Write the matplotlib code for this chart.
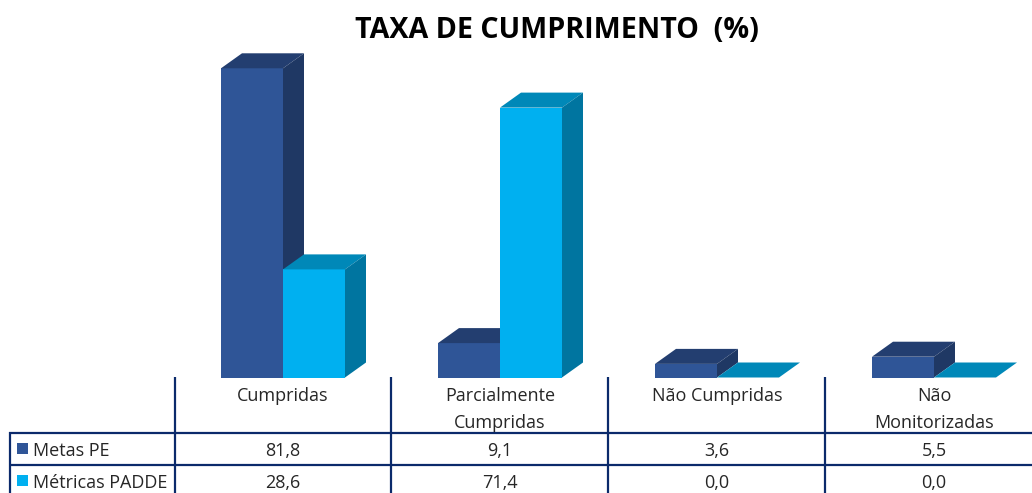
import matplotlib
matplotlib.use('Agg')
import matplotlib.pyplot as plt
from matplotlib.patches import Rectangle
import numpy as np

plt.rcParams['font.family'] = ['Open Sans', 'DejaVu Sans']

categories = ['Cumpridas', 'Parcialmente\nCumpridas', 'Não Cumpridas', 'Não\nMonitorizadas']
metas_pe = [81.8, 9.1, 3.6, 5.5]
metricas_padde = [28.6, 71.4, 0.0, 0.0]
series_names = ['Metas PE', 'Métricas PADDE']

W, H = 1032, 493
fig = plt.figure(figsize=(W / 100, H / 100), dpi=100)

# chart scale: 217 px per category, 3.78 px per percent, baseline at y=377.5
px_x = 217.0
px_y = 3.78
ax = fig.add_axes([0, 0, 1, 1])
ax.set_xlim(-283 / px_x, (W - 283) / px_x)
ax.set_ylim(-(H - 377.5) / px_y, 377.5 / px_y)
ax.axis('off')

bar_w = 62 / px_x
dx = 21 / px_x
dy = 15 / px_y


def bar3d(x0, val, front, top, side):
    ax.bar(x0, val, bar_w, bottom=0, align='edge', color=front, linewidth=0, zorder=3)
    ax.fill([x0, x0 + bar_w, x0 + bar_w + dx, x0 + dx],
            [val, val, val + dy, val + dy], color=top, linewidth=0, zorder=3)
    if val > 0:
        ax.fill([x0 + bar_w, x0 + bar_w + dx, x0 + bar_w + dx, x0 + bar_w],
                [0, dy, val + dy, val], color=side, linewidth=0, zorder=3)


for i in range(len(categories)):
    bar3d(i - bar_w, metas_pe[i], '#2F5597', '#233E70', '#1F3864')
    bar3d(i, metricas_padde[i], '#00B0F0', '#0088B8', '#0075A0')

# table, in pixel coordinates
tb = fig.add_axes([0, 0, 1, 1], facecolor='none')
tb.set_xlim(0, W)
tb.set_ylim(H, 0)
tb.axis('off')

line_col = '#0B2A6B'
col_x = [174.5, 391, 608, 825]
col_mid = [283, 500, 717, 934]
row_y = [432.5, 465]
row_mid = [450.5, 482.5]
for x in col_x:
    tb.plot([x, x], [377, H], color=line_col, lw=1.6, solid_capstyle='butt')
for y in row_y:
    tb.plot([9, W], [y, y], color=line_col, lw=1.6, solid_capstyle='butt')
tb.plot([9.5, 9.5], [432, H], color=line_col, lw=1.6, solid_capstyle='butt')

text_col = '#262626'
fs = 13
for i, c in enumerate(categories):
    tb.text(col_mid[i], 387, c, ha='center', va='top', fontsize=fs, color=text_col, linespacing=1.62)
    tb.text(col_mid[i], row_mid[0], f'{metas_pe[i]:.1f}'.replace('.', ','), ha='center', va='center',
            fontsize=fs, color=text_col)
    tb.text(col_mid[i], row_mid[1], f'{metricas_padde[i]:.1f}'.replace('.', ','), ha='center', va='center',
            fontsize=fs, color=text_col)

tb.add_patch(Rectangle((17, 443), 11, 11, color='#2F5597', lw=0))
tb.add_patch(Rectangle((17, 475), 11, 11, color='#00B0F0', lw=0))
tb.text(33, row_mid[0], series_names[0], ha='left', va='center', fontsize=fs, color=text_col)
tb.text(33, row_mid[1], series_names[1], ha='left', va='center', fontsize=fs, color=text_col)

tb.text(557, 31, 'TAXA DE CUMPRIMENTO  (%)', ha='center', va='center', fontsize=20.6,
        fontweight='bold', color='black')

fig.savefig('out.png', dpi=100)
